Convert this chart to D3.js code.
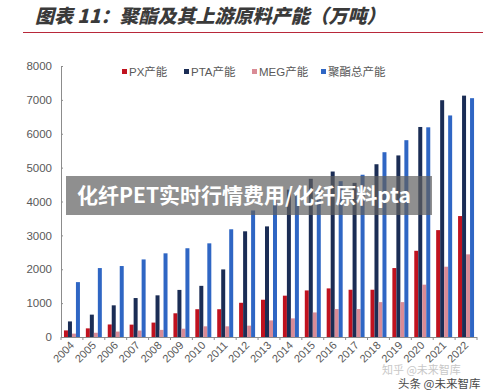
<!DOCTYPE html>
<html>
<head>
<meta charset="utf-8">
<title>聚酯及其上游原料产能</title>
<script src="https://cdn.jsdelivr.net/npm/d3@7"></script>
<style>
  html, body { margin: 0; padding: 0; background: #fff; }
  svg { display: block; }
  .tick-lbl { font: 11px "Liberation Sans", Arial, sans-serif; fill: #595959; }
  .legend text { font: 11.5px "Liberation Sans", "Noto Sans CJK SC", sans-serif; fill: #595959; }
</style>
</head>
<body>
<svg width="500" height="392"></svg>
<script>
// data (万吨)
var years = ["2004","2005","2006","2007","2008","2009","2010","2011","2012","2013",
             "2014","2015","2016","2017","2018","2019","2020","2021","2022"];
var pxCap  = [195, 255, 370, 365, 425, 700, 820, 820, 1010, 1100, 1220, 1375, 1435, 1395, 1395, 2035, 2545, 3155, 3570];
var ptaCap = [460, 660, 935, 1150, 1230, 1390, 1510, 1995, 3120, 3265, 4350, 4670, 4885, 4550, 5100, 5360, 6200, 6990, 7125];
var megCap = [100, 125, 160, 190, 210, 245, 315, 315, 335, 490, 550, 725, 825, 825, 1030, 1030, 1545, 2075, 2440];
var petCap = [1620, 2035, 2095, 2290, 2470, 2620, 2765, 3180, 3735, 4050, 4200, 4350, 4600, 4790, 5455, 5810, 6190, 6540, 7050];
var seriesNames = ["PX产能", "PTA产能", "MEG产能", "聚酯总产能"];
var seriesColors = ["#c0121f", "#1b2d55", "#d98b96", "#2f66c4"];
var yTicks = [0, 1000, 2000, 3000, 4000, 5000, 6000, 7000, 8000];

var series = [pxCap, ptaCap, megCap, petCap];

var svg = d3.select("svg");

// title + red rule
svg.append("text")
  .attr("x", 35).attr("y", 23)
  .style("font", "italic 900 19px 'Noto Sans CJK SC', sans-serif")
  .style("fill", "#3a3a3a")
  .text("图表 11：聚酯及其上游原料产能（万吨）");
svg.append("line")
  .attr("x1", 23).attr("x2", 483).attr("y1", 32.5).attr("y2", 32.5)
  .attr("stroke", "#b8283a").attr("stroke-width", 1);

var x = d3.scaleBand().domain(years).range([61, 477]).paddingInner(0.27).paddingOuter(0.135);
var xs = d3.scaleBand().domain(d3.range(4)).range([0, x.bandwidth()]);
var y = d3.scaleLinear().domain([0, 8000]).range([337, 66]);

// bars
series.forEach(function(vals, s) {
  svg.append("g").selectAll("rect")
    .data(vals)
    .enter().append("rect")
    .attr("x", function(d, i) { return x(years[i]) + xs(s); })
    .attr("y", function(d) { return y(d); })
    .attr("width", xs.bandwidth())
    .attr("height", function(d) { return y(0) - y(d); })
    .attr("fill", seriesColors[s]);
});

// y axis
var yAxis = svg.append("g")
  .attr("transform", "translate(61,0)")
  .call(d3.axisLeft(y).tickValues(yTicks).tickFormat(d3.format("d")).tickSize(-2).tickPadding(9));
yAxis.select(".domain").attr("stroke", "#8c8c8c");
yAxis.selectAll(".tick line").attr("stroke", "#8c8c8c");
yAxis.selectAll("text").attr("class", "tick-lbl").style("font-size", "11.5px");

// x axis
svg.append("line")
  .attr("x1", 61).attr("x2", 477).attr("y1", y(0) + 0.5).attr("y2", y(0) + 0.5)
  .attr("stroke", "#8c8c8c");
svg.append("g").selectAll("line")
  .data(years.concat(["end"]))
  .enter().append("line")
  .attr("x1", function(d, i) { return 61 + i * x.step(); })
  .attr("x2", function(d, i) { return 61 + i * x.step(); })
  .attr("y1", y(0)).attr("y2", y(0) + 3)
  .attr("stroke", "#8c8c8c");
svg.append("g").selectAll("text")
  .data(years)
  .enter().append("text")
  .attr("class", "tick-lbl")
  .attr("text-anchor", "end")
  .attr("transform", function(d) {
    return "translate(" + (x(d) + x.bandwidth() / 2 + 3) + ",346) rotate(-45)";
  })
  .text(function(d) { return d; });

// legend
var legX = [122, 184, 252, 321];
var leg = svg.append("g").attr("class", "legend");
seriesNames.forEach(function(n, i) {
  leg.append("rect").attr("x", legX[i]).attr("y", 69).attr("width", 5).attr("height", 5)
    .attr("fill", seriesColors[i]);
  leg.append("text").attr("x", legX[i] + 7).attr("y", 76).text(n);
});

// overlay banner
svg.append("rect")
  .attr("x", 66).attr("y", 176).attr("width", 366).attr("height", 39)
  .attr("fill", "rgba(95,95,95,0.7)");
svg.append("text")
  .attr("x", 77).attr("y", 203)
  .style("font", "bold 21px 'Noto Sans CJK SC', sans-serif")
  .style("fill", "#fff")
  .text("化纤PET实时行情费用/化纤原料pta");

// watermarks
svg.append("text")
  .attr("x", 382).attr("y", 374)
  .style("font", "11px 'Noto Sans CJK SC', sans-serif")
  .style("fill", "#c8c8c8")
  .text("知乎 @未来智库");
svg.append("text")
  .attr("x", 398).attr("y", 388)
  .style("font", "11.5px 'Noto Sans CJK SC', sans-serif")
  .style("fill", "#4a4a4a")
  .text("头条 @未来智库");
</script>
</body>
</html>
